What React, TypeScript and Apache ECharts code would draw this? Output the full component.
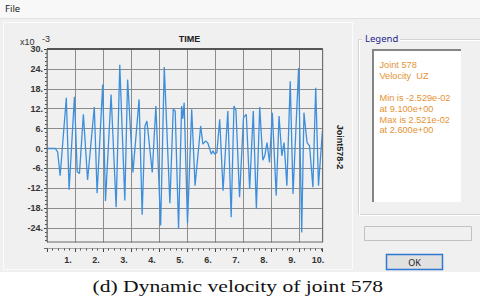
import React, { useEffect, useRef } from 'react';
import * as echarts from 'echarts';

// Time (s) and velocity (x10^-3)
const times = [
  0.0, 0.3, 0.38, 0.47, 0.69, 0.79, 0.98, 1.08, 1.16, 1.3, 1.45, 1.69, 1.79, 1.99, 2.09, 2.29,
  2.47, 2.6, 2.78, 2.88, 3.07, 3.29, 3.4, 3.5, 3.57, 3.76, 3.89, 4.06, 4.19, 4.39, 4.51, 4.58,
  4.7, 4.81, 4.85, 4.9, 5.02, 5.17, 5.29, 5.49, 5.57, 5.67, 5.75, 5.87, 5.93, 5.99, 6.07, 6.17,
  6.29, 6.46, 6.58, 6.68, 6.75, 6.88, 7.02, 7.12, 7.24, 7.37, 7.48, 7.6, 7.71, 7.78, 7.86, 7.95,
  8.05, 8.19, 8.29, 8.39, 8.47, 8.57, 8.69, 8.79, 8.99, 9.1, 9.18, 9.29, 9.38, 9.5, 9.6, 9.7, 9.84,
];
const velocities = [
  0, 0, -1, -8.2, 15.3, -12.4, 15.6, -7.0, -7.5, 10.3, -9.5, 12.5, -13.5, 19.3, -15.8, 16.3,
  -17.7, 25.21, -15.7, 20.8, -7.2, 14.8, -20.0, 6.8, 8.3, -7.2, 12.8, -23.2, 24.6, -16.5, 11.8, 11.3,
  -24.2, 12.8, 9.0, 13.8, -22.5, 11.8, -11.2, 6.8, 1.3, 2.3, 1.6, -1.7, -0.7, -1.7, -1.2, 8.8,
  -12.7, 11.3, -20.7, 12.8, 11.5, -14.7, 9.3, 10.3, -12.2, 11.3, -18.2, 12.5, -3.5, -2.2, 1.8, -4.2,
  10.8, -14.2, 9.8, -2.2, 1.8, -11.2, 20.3, -13.7, 24.3, -25.29, 10.8, 1.8, 0.8, -11.7, 18.3, -11.2, 5.3,
];

const xMin = 0;
const xMax = 9.85;
const xInterval = 1;
const yMin = -30;
const yMax = 30;
const yInterval = 6;
const yVisibleMin = -28.2;
const lastXLabel = '10.';

const legendLines = [
  'Joint 578',
  'Velocity  UZ',
  '',
  'Min is -2.529e-02',
  'at 9.100e+00',
  'Max is 2.521e-02',
  'at 2.600e+00',
];

const caption = '(d) Dynamic velocity of joint 578';

const G = { left: 47, top: 49, width: 275.7, height: 199 };

export default function App() {
  const ref = useRef<HTMLDivElement>(null);

  useEffect(() => {
    document.body.style.margin = '0';
    const chart = echarts.init(ref.current!, null, { renderer: 'svg' });
    const yScale = G.height / (yMax - yMin);
    const visibleBottom = G.top + (yMax - yVisibleMin) * yScale;
    const right = G.left + G.width;
    const uiFont = '"Noto Sans", "Liberation Sans", sans-serif';
    const legFont = '"Liberation Sans", sans-serif';

    const graphic: any[] = [
      { type: 'rect', z: -10, shape: { x: 0, y: 0, width: 480, height: 18 }, style: { fill: '#f8f8f8' } },
      { type: 'line', z: -10, shape: { x1: 0, y1: 18.5, x2: 480, y2: 18.5 }, style: { stroke: '#e2e2e2', lineWidth: 1 } },
      { type: 'text', z: 5, x: 5, y: 8.5, style: { text: 'File', font: `9.5px ${uiFont}`, fill: '#1a1a1a', verticalAlign: 'middle' } },
      { type: 'rect', z: -10, shape: { x: 3.5, y: 22.5, width: 349, height: 247 }, style: { fill: 'none', stroke: '#fbfbfb', lineWidth: 1 } },
      { type: 'rect', z: -10, shape: { x: 0, y: 272, width: 480, height: 28 }, style: { fill: '#ffffff' } },
      { type: 'text', z: 5, x: 92.5, y: 286, scaleX: 1.27, style: { text: caption, font: '17px "Liberation Serif", serif', fill: '#111', verticalAlign: 'middle', align: 'left' } },
      // cover below visible plot bottom
      { type: 'rect', z: 50, shape: { x: 38, y: visibleBottom + 0.5, width: right - 38 + 1, height: G.top + G.height - visibleBottom - 0.3 }, style: { fill: '#f0f0f0' } },
      // plot frame
      { type: 'rect', z: 51, shape: { x: G.left, y: G.top, width: G.width, height: visibleBottom - G.top }, style: { fill: 'none', stroke: '#6a6a6a', lineWidth: 1 } },
      { type: 'line', z: 52, shape: { x1: G.left, y1: G.top, x2: right, y2: G.top }, style: { stroke: '#555', lineWidth: 2 } },
      // axis texts
      { type: 'text', z: 5, x: 20, y: 42, style: { text: 'x10', font: '9px "Liberation Sans", sans-serif', fill: '#333', verticalAlign: 'middle' } },
      { type: 'text', z: 5, x: 42, y: 38.5, style: { text: '-3', font: '9px "Liberation Sans", sans-serif', fill: '#333', verticalAlign: 'middle' } },
      { type: 'text', z: 5, x: 189.5, y: 38.5, style: { text: 'TIME', font: 'bold 9px "Liberation Sans", sans-serif', fill: '#222', align: 'center', verticalAlign: 'middle' } },
      { type: 'text', z: 5, x: 340, y: 147, rotation: -Math.PI / 2, style: { text: 'Joint578-2', font: 'bold 9px "Liberation Sans", sans-serif', fill: '#222', align: 'center', verticalAlign: 'middle' } },
      { type: 'text', z: 5, x: 318, y: 260, style: { text: lastXLabel, font: 'bold 9px "Liberation Sans", sans-serif', fill: '#333', align: 'center', verticalAlign: 'middle' } },
      // legend group box
      { type: 'rect', z: -5, shape: { x: 358.5, y: 39.5, width: 125, height: 175 }, style: { fill: 'none', stroke: '#d3d3d3', lineWidth: 1 } },
      { type: 'rect', z: -5, shape: { x: 359.5, y: 40.5, width: 125, height: 175 }, style: { fill: 'none', stroke: '#ffffff', lineWidth: 1 } },
      { type: 'rect', z: -4, shape: { x: 362, y: 33, width: 38, height: 11 }, style: { fill: '#f0f0f0' } },
      { type: 'text', z: 5, x: 365, y: 38.5, style: { text: 'Legend', font: `9.5px ${uiFont}`, fill: '#25258a', verticalAlign: 'middle' } },
      { type: 'rect', z: -3, shape: { x: 372, y: 49, width: 89, height: 153 }, style: { fill: '#ffffff' } },
      { type: 'polyline', z: -2, shape: { points: [[373, 202], [373, 50], [461, 50]] }, style: { fill: 'none', stroke: '#858585', lineWidth: 2 } },
      ...legendLines.map((t, i) => ({
        type: 'text', z: 5, x: 379.5, y: 65 + i * 10.9,
        style: { text: t, font: `9.2px ${legFont}`, fill: '#e59232', verticalAlign: 'middle' },
      })),
      // textbox
      { type: 'rect', z: -3, shape: { x: 364.5, y: 226.5, width: 107, height: 14 }, style: { fill: '#f0f0f0', stroke: '#c2c2c2', lineWidth: 1 } },
      // OK button
      { type: 'rect', z: -3, shape: { x: 386.5, y: 254.5, width: 56, height: 15 }, style: { fill: '#e1e1e1', stroke: '#2f78d2', lineWidth: 1.5 } },
      { type: 'text', z: 5, x: 414.5, y: 262, style: { text: 'OK', font: `9px ${uiFont}`, fill: '#222', align: 'center', verticalAlign: 'middle' } },
    ];

    const labelStyle = { fontSize: 9, fontWeight: 'bold' as const, color: '#333', fontFamily: 'Liberation Sans' };
    const hiddenLine = { show: true, onZero: false, lineStyle: { color: 'rgba(0,0,0,0)', width: 0 } };

    chart.setOption({
      animation: false,
      backgroundColor: '#f0f0f0',
      grid: { left: G.left, top: G.top, width: G.width, height: G.height, show: false },
      xAxis: {
        type: 'value', min: xMin, max: xMax, interval: xInterval,
        axisLine: hiddenLine,
        axisTick: { show: true, length: 4, lineStyle: { color: '#444', width: 1 } },
        minorTick: { show: true, splitNumber: 5, length: 2.5, lineStyle: { color: '#555', width: 1 } },
        axisLabel: { ...labelStyle, margin: 7.5, padding: [0, 14, 0, 0], showMaxLabel: false, formatter: (v: number) => (v === 0 ? '' : `${v}.`) },
        splitLine: { show: true, lineStyle: { color: '#8c8c8c', width: 1 } },
      },
      yAxis: {
        type: 'value', min: yMin, max: yMax, interval: yInterval,
        axisLine: hiddenLine,
        axisTick: { show: true, length: 3, lineStyle: { color: '#444', width: 1 } },
        minorTick: { show: true, splitNumber: 5, length: 2, lineStyle: { color: '#555', width: 1 } },
        axisLabel: { ...labelStyle, margin: 4, formatter: (v: number) => (v === yMin ? '' : `${v}.`) },
        splitLine: { show: true, lineStyle: { color: '#8c8c8c', width: 1 } },
      },
      series: [{
        type: 'line',
        data: times.map((t, i) => [t, velocities[i]]),
        showSymbol: false,
        lineStyle: { color: '#3d8fdc', width: 1.3 },
        z: 3,
      }],
      graphic,
    });
    return () => chart.dispose();
  }, []);

  return <div ref={ref} style={{ position: 'absolute', left: 0, top: 0, width: 480, height: 300 }} />;
}
